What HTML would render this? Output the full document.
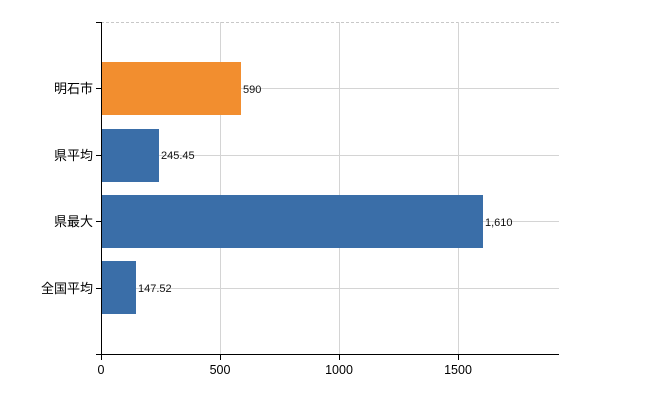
<!DOCTYPE html>
<html><head><meta charset="utf-8"><style>
body{margin:0;background:#fff}
svg{display:block;font-family:"Liberation Sans","Noto Sans CJK JP",sans-serif}
</style></head><body>
<svg width="650" height="400" viewBox="0 0 650 400">
<g stroke="#d4d4d4" stroke-width="1">
<line x1="101" y1="22.5" x2="559" y2="22.5" stroke-dasharray="3,2" stroke="#c8c8c8"/>
<line x1="101" y1="88.5" x2="559" y2="88.5"/>
<line x1="101" y1="155.5" x2="559" y2="155.5"/>
<line x1="101" y1="221.5" x2="559" y2="221.5"/>
<line x1="101" y1="288.5" x2="559" y2="288.5"/>
<line x1="220.5" y1="22" x2="220.5" y2="355"/>
<line x1="339.5" y1="22" x2="339.5" y2="355"/>
<line x1="458.5" y1="22" x2="458.5" y2="355"/>
</g>
<rect x="101" y="62" width="140" height="53" fill="#f28e2f"/>
<rect x="101" y="129" width="58" height="53" fill="#3a6ea8"/>
<rect x="101" y="195" width="382" height="53" fill="#3a6ea8"/>
<rect x="101" y="261" width="35" height="53" fill="#3a6ea8"/>
<g font-size="11" fill="#111">
<text x="243" y="93">590</text>
<text x="161" y="159">245.45</text>
<text x="485" y="226">1,610</text>
<text x="138" y="292">147.52</text>
</g>
<g stroke="#000" stroke-width="1">
<line x1="101.5" y1="22" x2="101.5" y2="355"/>
<line x1="96" y1="22.5" x2="101" y2="22.5"/>
<line x1="96" y1="88.5" x2="101" y2="88.5"/>
<line x1="96" y1="155.5" x2="101" y2="155.5"/>
<line x1="96" y1="221.5" x2="101" y2="221.5"/>
<line x1="96" y1="288.5" x2="101" y2="288.5"/>
<line x1="96" y1="354.5" x2="559" y2="354.5"/>
<line x1="101.5" y1="355" x2="101.5" y2="360"/>
<line x1="220.5" y1="355" x2="220.5" y2="360"/>
<line x1="339.5" y1="355" x2="339.5" y2="360"/>
<line x1="458.5" y1="355" x2="458.5" y2="360"/>
</g>
<g font-size="13" fill="#000" text-anchor="end">
<text x="93" y="93">明石市</text>
<text x="93" y="160">県平均</text>
<text x="93" y="226">県最大</text>
<text x="93" y="293">全国平均</text>
</g>
<g font-size="12.5" fill="#000" text-anchor="middle">
<text x="101" y="374">0</text>
<text x="220" y="374">500</text>
<text x="339" y="374">1000</text>
<text x="458" y="374">1500</text>
</g>
</svg>
</body></html>
